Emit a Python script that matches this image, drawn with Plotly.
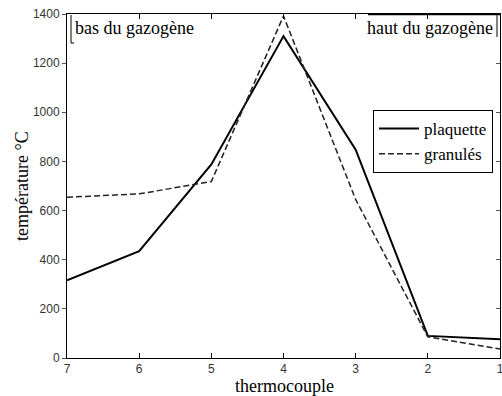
import plotly.graph_objects as go

thermocouples = [7, 6, 5, 4, 3, 2, 1]
plaquette = [316, 435, 788, 1310, 848, 90, 76]
granules = [654, 668, 718, 1392, 645, 86, 37]
y_ticks = [0, 200, 400, 600, 800, 1000, 1200, 1400]

serif = "Liberation Serif"
sans = "Liberation Sans"

fig = go.Figure()
fig.add_trace(go.Scatter(x=thermocouples, y=plaquette, mode="lines", name="plaquette",
                         line=dict(color="black", width=2)))
fig.add_trace(go.Scatter(x=thermocouples, y=granules, mode="lines", name="granulés",
                         line=dict(color="#222", width=1.5, dash="6px,3px")))
# invisible trace for right-side ticks
fig.add_trace(go.Scatter(x=[7], y=[0], yaxis="y2", mode="lines", showlegend=False,
                         hoverinfo="skip", line=dict(width=0)))

L, R, T, B = 67, 2, 14, 38
W, H = 502, 396
pw, ph = W - L - R, H - T - B

def px(x):
    return (x - L) / pw

def py(y):
    return (H - B - y) / ph

fig.update_layout(
    width=W, height=H,
    margin=dict(l=L, r=R, t=T, b=B, autoexpand=False),
    paper_bgcolor="white", plot_bgcolor="white",
    showlegend=True,
    legend=dict(x=px(373), y=py(110), xanchor="left", yanchor="top",
                bgcolor="white", bordercolor="black", borderwidth=1,
                font=dict(family=serif, size=17, color="black"),
                tracegroupgap=0, itemwidth=40),
    xaxis=dict(range=[7, 1], tickvals=thermocouples, ticks="inside", ticklen=5,
               tickcolor="black", showline=True, linecolor="black", linewidth=1,
               mirror="ticks", showgrid=False, zeroline=False, automargin=False,
               ticklabeloverflow="allow",
               tickfont=dict(family=sans, size=12, color="#333")),
    yaxis=dict(range=[0, 1400], tickvals=y_ticks, ticks="outside", ticklen=4,
               tickcolor="#555", showline=True, linecolor="black", linewidth=1,
               mirror=True, showgrid=False, zeroline=False, automargin=False,
               tickfont=dict(family=sans, size=12, color="#333")),
    yaxis2=dict(range=[0, 1400], overlaying="y", side="right", tickvals=y_ticks,
                ticks="inside", ticklen=4, tickcolor="#555", showticklabels=False,
                showgrid=False, zeroline=False, showline=False, automargin=False),
    annotations=[
        dict(text="bas du gazogène", x=px(73), y=py(28), xref="paper", yref="paper",
             xanchor="left", yanchor="middle", showarrow=False,
             font=dict(family=serif, size=18, color="black")),
        dict(text="haut du gazogène", x=px(495), y=py(28), xref="paper", yref="paper",
             xanchor="right", yanchor="middle", showarrow=False,
             font=dict(family=serif, size=18, color="black")),
        dict(text="thermocouple", x=px(284), y=py(386), xref="paper", yref="paper",
             xanchor="center", yanchor="middle", showarrow=False,
             font=dict(family=serif, size=18, color="black")),
        dict(text="température °C", x=px(22), y=py(186), xref="paper", yref="paper",
             xanchor="center", yanchor="middle", showarrow=False, textangle=-90,
             font=dict(family=serif, size=18, color="black")),
    ],
    shapes=[
        dict(type="line", xref="paper", yref="paper", x0=px(71), x1=px(71), y0=py(15), y1=py(43),
             line=dict(color="black", width=1)),
        dict(type="line", xref="paper", yref="paper", x0=px(71), x1=px(74), y0=py(43), y1=py(43),
             line=dict(color="black", width=1)),
        dict(type="line", xref="paper", yref="paper", x0=px(497), x1=px(497), y0=py(14), y1=py(37),
             line=dict(color="black", width=1)),
        dict(type="line", xref="paper", yref="paper", x0=px(368), x1=px(500), y0=py(14.5), y1=py(14.5),
             line=dict(color="black", width=1.5)),
    ],
)

fig.write_html("out.html", config={"displayModeBar": False},
               post_script="document.body.style.margin='0';document.body.style.overflow='hidden';")
